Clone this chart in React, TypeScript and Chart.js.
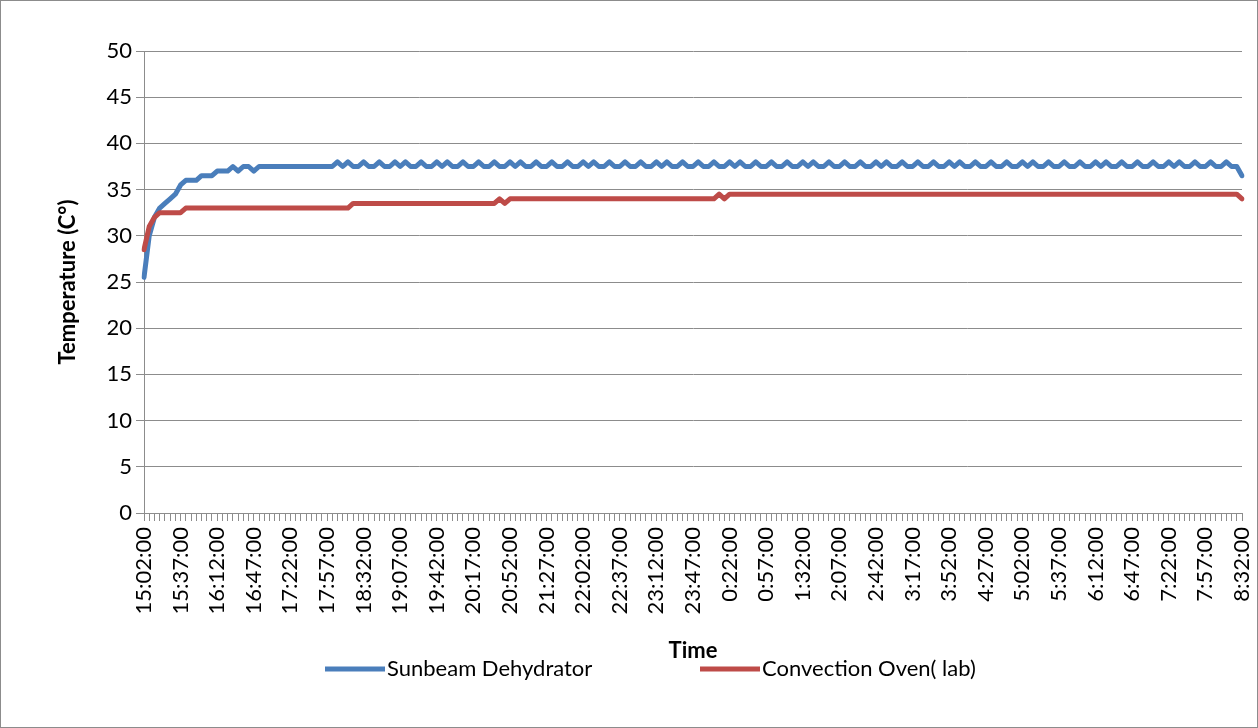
import React, { useEffect, useRef } from "react";
import { Chart, registerables } from "chart.js";

Chart.register(...registerables);

// Sampling times (every 5 minutes)
const CATEGORIES: string[] = [
  "15:02:00", "15:07:00", "15:12:00", "15:17:00", "15:22:00", "15:27:00", "15:32:00", "15:37:00", "15:42:00", "15:47:00", "15:52:00", "15:57:00",
  "16:02:00", "16:07:00", "16:12:00", "16:17:00", "16:22:00", "16:27:00", "16:32:00", "16:37:00", "16:42:00", "16:47:00", "16:52:00", "16:57:00",
  "17:02:00", "17:07:00", "17:12:00", "17:17:00", "17:22:00", "17:27:00", "17:32:00", "17:37:00", "17:42:00", "17:47:00", "17:52:00", "17:57:00",
  "18:02:00", "18:07:00", "18:12:00", "18:17:00", "18:22:00", "18:27:00", "18:32:00", "18:37:00", "18:42:00", "18:47:00", "18:52:00", "18:57:00",
  "19:02:00", "19:07:00", "19:12:00", "19:17:00", "19:22:00", "19:27:00", "19:32:00", "19:37:00", "19:42:00", "19:47:00", "19:52:00", "19:57:00",
  "20:02:00", "20:07:00", "20:12:00", "20:17:00", "20:22:00", "20:27:00", "20:32:00", "20:37:00", "20:42:00", "20:47:00", "20:52:00", "20:57:00",
  "21:02:00", "21:07:00", "21:12:00", "21:17:00", "21:22:00", "21:27:00", "21:32:00", "21:37:00", "21:42:00", "21:47:00", "21:52:00", "21:57:00",
  "22:02:00", "22:07:00", "22:12:00", "22:17:00", "22:22:00", "22:27:00", "22:32:00", "22:37:00", "22:42:00", "22:47:00", "22:52:00", "22:57:00",
  "23:02:00", "23:07:00", "23:12:00", "23:17:00", "23:22:00", "23:27:00", "23:32:00", "23:37:00", "23:42:00", "23:47:00", "23:52:00", "23:57:00",
  "0:02:00", "0:07:00", "0:12:00", "0:17:00", "0:22:00", "0:27:00", "0:32:00", "0:37:00", "0:42:00", "0:47:00", "0:52:00", "0:57:00",
  "1:02:00", "1:07:00", "1:12:00", "1:17:00", "1:22:00", "1:27:00", "1:32:00", "1:37:00", "1:42:00", "1:47:00", "1:52:00", "1:57:00",
  "2:02:00", "2:07:00", "2:12:00", "2:17:00", "2:22:00", "2:27:00", "2:32:00", "2:37:00", "2:42:00", "2:47:00", "2:52:00", "2:57:00",
  "3:02:00", "3:07:00", "3:12:00", "3:17:00", "3:22:00", "3:27:00", "3:32:00", "3:37:00", "3:42:00", "3:47:00", "3:52:00", "3:57:00",
  "4:02:00", "4:07:00", "4:12:00", "4:17:00", "4:22:00", "4:27:00", "4:32:00", "4:37:00", "4:42:00", "4:47:00", "4:52:00", "4:57:00",
  "5:02:00", "5:07:00", "5:12:00", "5:17:00", "5:22:00", "5:27:00", "5:32:00", "5:37:00", "5:42:00", "5:47:00", "5:52:00", "5:57:00",
  "6:02:00", "6:07:00", "6:12:00", "6:17:00", "6:22:00", "6:27:00", "6:32:00", "6:37:00", "6:42:00", "6:47:00", "6:52:00", "6:57:00",
  "7:02:00", "7:07:00", "7:12:00", "7:17:00", "7:22:00", "7:27:00", "7:32:00", "7:37:00", "7:42:00", "7:47:00", "7:52:00", "7:57:00",
  "8:02:00", "8:07:00", "8:12:00", "8:17:00", "8:22:00", "8:27:00", "8:32:00",
];

// Labels shown under the axis
const TICK_LABELS: string[] = [
  "15:02:00", "15:37:00", "16:12:00", "16:47:00", "17:22:00", "17:57:00", "18:32:00", "19:07:00",
  "19:42:00", "20:17:00", "20:52:00", "21:27:00", "22:02:00", "22:37:00", "23:12:00", "23:47:00",
  "0:22:00", "0:57:00", "1:32:00", "2:07:00", "2:42:00", "3:17:00", "3:52:00", "4:27:00",
  "5:02:00", "5:37:00", "6:12:00", "6:47:00", "7:22:00", "7:57:00", "8:32:00",
];

const SERIES_NAMES: string[] = ["Sunbeam Dehydrator", "Convection Oven( lab)"];

const SUNBEAM: number[] = [
  25.5, 30, 32, 33, 33.5, 34, 34.5, 35.5, 36, 36,
  36, 36.5, 36.5, 36.5, 37, 37, 37, 37.5, 37, 37.5,
  37.5, 37, 37.5, 37.5, 37.5, 37.5, 37.5, 37.5, 37.5, 37.5,
  37.5, 37.5, 37.5, 37.5, 37.5, 37.5, 37.5, 38, 37.5, 38,
  37.5, 37.5, 38, 37.5, 37.5, 38, 37.5, 37.5, 38, 37.5,
  38, 37.5, 37.5, 38, 37.5, 37.5, 38, 37.5, 38, 37.5,
  37.5, 38, 37.5, 37.5, 38, 37.5, 37.5, 38, 37.5, 37.5,
  38, 37.5, 38, 37.5, 37.5, 38, 37.5, 37.5, 38, 37.5,
  37.5, 38, 37.5, 37.5, 38, 37.5, 38, 37.5, 37.5, 38,
  37.5, 37.5, 38, 37.5, 37.5, 38, 37.5, 37.5, 38, 37.5,
  38, 37.5, 37.5, 38, 37.5, 37.5, 38, 37.5, 37.5, 38,
  37.5, 37.5, 38, 37.5, 38, 37.5, 37.5, 38, 37.5, 37.5,
  38, 37.5, 37.5, 38, 37.5, 37.5, 38, 37.5, 38, 37.5,
  37.5, 38, 37.5, 37.5, 38, 37.5, 37.5, 38, 37.5, 37.5,
  38, 37.5, 38, 37.5, 37.5, 38, 37.5, 37.5, 38, 37.5,
  37.5, 38, 37.5, 37.5, 38, 37.5, 38, 37.5, 37.5, 38,
  37.5, 37.5, 38, 37.5, 37.5, 38, 37.5, 37.5, 38, 37.5,
  38, 37.5, 37.5, 38, 37.5, 37.5, 38, 37.5, 37.5, 38,
  37.5, 37.5, 38, 37.5, 38, 37.5, 37.5, 38, 37.5, 37.5,
  38, 37.5, 37.5, 38, 37.5, 37.5, 38, 37.5, 38, 37.5,
  37.5, 38, 37.5, 37.5, 38, 37.5, 37.5, 38, 37.5, 37.5,
  36.5,
];

const CONVECTION: number[] = [
  28.5, 31, 32, 32.5, 32.5, 32.5, 32.5, 32.5, 33, 33,
  33, 33, 33, 33, 33, 33, 33, 33, 33, 33,
  33, 33, 33, 33, 33, 33, 33, 33, 33, 33,
  33, 33, 33, 33, 33, 33, 33, 33, 33, 33,
  33.5, 33.5, 33.5, 33.5, 33.5, 33.5, 33.5, 33.5, 33.5, 33.5,
  33.5, 33.5, 33.5, 33.5, 33.5, 33.5, 33.5, 33.5, 33.5, 33.5,
  33.5, 33.5, 33.5, 33.5, 33.5, 33.5, 33.5, 33.5, 34, 33.5,
  34, 34, 34, 34, 34, 34, 34, 34, 34, 34,
  34, 34, 34, 34, 34, 34, 34, 34, 34, 34,
  34, 34, 34, 34, 34, 34, 34, 34, 34, 34,
  34, 34, 34, 34, 34, 34, 34, 34, 34, 34,
  34.5, 34, 34.5, 34.5, 34.5, 34.5, 34.5, 34.5, 34.5, 34.5,
  34.5, 34.5, 34.5, 34.5, 34.5, 34.5, 34.5, 34.5, 34.5, 34.5,
  34.5, 34.5, 34.5, 34.5, 34.5, 34.5, 34.5, 34.5, 34.5, 34.5,
  34.5, 34.5, 34.5, 34.5, 34.5, 34.5, 34.5, 34.5, 34.5, 34.5,
  34.5, 34.5, 34.5, 34.5, 34.5, 34.5, 34.5, 34.5, 34.5, 34.5,
  34.5, 34.5, 34.5, 34.5, 34.5, 34.5, 34.5, 34.5, 34.5, 34.5,
  34.5, 34.5, 34.5, 34.5, 34.5, 34.5, 34.5, 34.5, 34.5, 34.5,
  34.5, 34.5, 34.5, 34.5, 34.5, 34.5, 34.5, 34.5, 34.5, 34.5,
  34.5, 34.5, 34.5, 34.5, 34.5, 34.5, 34.5, 34.5, 34.5, 34.5,
  34.5, 34.5, 34.5, 34.5, 34.5, 34.5, 34.5, 34.5, 34.5, 34.5,
  34,
];

const Y_MIN = 0;
const Y_MAX = 50;
const Y_STEP = 5;

const BLUE = "#4a7ebb";
const RED = "#be4b48";
const GRID = "#8c8c8c";
const FONT = "Lato, 'Open Sans', sans-serif";

const TICK_SET = new Set(TICK_LABELS);

const frameAndLegend = {
  id: "frameAndLegend",
  beforeDraw(chart: any) {
    const ctx = chart.ctx;
    ctx.save();
    ctx.fillStyle = "#ffffff";
    ctx.fillRect(0, 0, chart.width, chart.height);
    ctx.restore();
  },
  afterDraw(chart: any) {
    const ctx = chart.ctx;
    ctx.save();
    ctx.strokeStyle = "#8c8c8c";
    ctx.lineWidth = 1;
    ctx.strokeRect(0.5, 0.5, chart.width - 1, chart.height - 1);
    const y = 669;
    const starts = [325, 700];
    chart.data.datasets.forEach((ds: any, i: number) => {
      const x0 = starts[i];
      ctx.strokeStyle = ds.borderColor;
      ctx.lineWidth = 5;
      ctx.lineCap = "butt";
      ctx.beginPath();
      ctx.moveTo(x0, y);
      ctx.lineTo(x0 + 60, y);
      ctx.stroke();
      ctx.fillStyle = "#000";
      ctx.font = `22px ${FONT}`;
      ctx.textBaseline = "middle";
      ctx.textAlign = "left";
      ctx.fillText(ds.label, x0 + 62, y);
    });
    ctx.restore();
  },
};

export default function App() {
  const ref = useRef<HTMLCanvasElement>(null);

  useEffect(() => {
    if (!ref.current) return;
    const chart = new Chart(ref.current, {
      type: "line",
      data: {
        labels: CATEGORIES,
        datasets: [
          {
            label: SERIES_NAMES[0],
            data: SUNBEAM,
            borderColor: BLUE,
            backgroundColor: BLUE,
            borderWidth: 5,
            pointRadius: 0,
            tension: 0,
            borderJoinStyle: "round",
            borderCapStyle: "round",
            order: 1,
          },
          {
            label: SERIES_NAMES[1],
            data: CONVECTION,
            borderColor: RED,
            backgroundColor: RED,
            borderWidth: 5,
            pointRadius: 0,
            tension: 0,
            borderJoinStyle: "round",
            borderCapStyle: "round",
            order: 0,
          },
        ],
      },
      options: {
        animation: false,
        responsive: false,
        devicePixelRatio: 1,
        layout: { padding: { left: 10, right: 16, top: 51, bottom: 0 } },
        plugins: {
          legend: { display: false },
          tooltip: { enabled: false },
        },
        scales: {
          x: {
            offset: false,
            grid: {
              display: true,
              drawOnChartArea: false,
              drawTicks: true,
              tickLength: 8,
              color: GRID,
              lineWidth: 1,
            },
            border: { display: true, color: GRID, width: 1 },
            ticks: {
              autoSkip: false,
              maxRotation: 90,
              minRotation: 90,
              padding: 6,
              color: "#000",
              font: { family: FONT, size: 22 },
              callback: (_v: any, idx: number) =>
                TICK_SET.has(CATEGORIES[idx]) ? CATEGORIES[idx] : "",
            },
            title: {
              display: true,
              text: "Time",
              color: "#000",
              font: { family: FONT, size: 22, weight: "bold" },
              padding: { top: 0, bottom: 64 },
            },
            afterFit: (scale: any) => {
              scale.height = 215;
              scale.paddingLeft = 0;
              scale.paddingRight = 0;
            },
          },
          y: {
            min: Y_MIN,
            max: Y_MAX,
            grid: {
              display: true,
              drawTicks: true,
              tickLength: 8,
              color: GRID,
              lineWidth: 1,
            },
            border: { display: true, color: GRID, width: 1 },
            ticks: {
              stepSize: Y_STEP,
              padding: 4,
              color: "#000",
              font: { family: FONT, size: 22 },
            },
            title: {
              display: true,
              text: "Temperature (C°)",
              color: "#000",
              font: { family: FONT, size: 22, weight: "bold" },
              padding: { top: 45, bottom: 0 },
            },
            afterFit: (scale: any) => {
              scale.width = 134;
              scale.paddingTop = 0;
              scale.paddingBottom = 0;
            },
          },
        },
      },
      plugins: [frameAndLegend],
    } as any);
    return () => chart.destroy();
  }, []);

  return (
    <div style={{ position: "fixed", left: 0, top: 0, width: 1258, height: 728, background: "#fff" }}>
      <canvas ref={ref} width={1258} height={728} style={{ display: "block", width: 1258, height: 728 }} />
    </div>
  );
}
